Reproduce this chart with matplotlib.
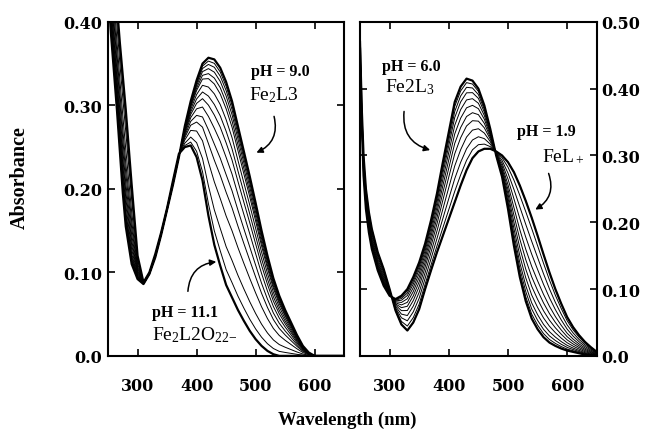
import numpy as np
import matplotlib
matplotlib.use('Agg')
import matplotlib.pyplot as plt

plt.rcParams['mathtext.fontset'] = 'custom'
plt.rcParams['mathtext.rm'] = 'Liberation Serif'
plt.rcParams['mathtext.it'] = 'Liberation Serif'
plt.rcParams['mathtext.bf'] = 'Liberation Serif:bold'

# ---- left panel : pH 9.0 (Fe2L3) -> pH 11.1 (Fe2L2O2 2-) ----
wl_left = [250, 255, 260, 265, 270, 275, 280, 290, 300, 310, 320, 330, 340, 350,
           360, 370, 380, 390, 400, 410, 420, 430, 440, 450, 460, 470, 480, 490,
           500, 510, 520, 530, 540, 550, 560, 570, 580, 590, 600, 620, 650]
abs_ph90 = [0.44, 0.385, 0.34, 0.295, 0.245, 0.195, 0.155, 0.110, 0.092, 0.086,
            0.098, 0.118, 0.145, 0.175, 0.205, 0.238, 0.275, 0.305, 0.330, 0.350,
            0.357, 0.355, 0.345, 0.328, 0.305, 0.275, 0.245, 0.215, 0.183, 0.150,
            0.120, 0.093, 0.072, 0.055, 0.040, 0.025, 0.012, 0.004, 0.0, 0.0, 0.0]
abs_ph111 = [0.60, 0.53, 0.47, 0.42, 0.375, 0.335, 0.295, 0.205, 0.120, 0.088,
             0.100, 0.122, 0.148, 0.177, 0.210, 0.242, 0.250, 0.252, 0.238, 0.210,
             0.168, 0.133, 0.108, 0.085, 0.070, 0.055, 0.042, 0.030, 0.020, 0.012,
             0.006, 0.002, 0.0, 0.0, 0.0, 0.0, 0.0, 0.0, 0.0, 0.0, 0.0]
# band maxima of the in-between spectra, read top to bottom
peaks_left = [0.353, 0.349, 0.344, 0.338, 0.332, 0.324, 0.316, 0.308, 0.298,
              0.288, 0.280, 0.270, 0.262, 0.256]

# ---- right panel : pH 6.0 (Fe2L3) -> pH 1.9 (FeL+) ----
wl_right = [250, 253, 256, 260, 265, 270, 280, 290, 300, 310, 320, 330, 340, 350,
            360, 370, 380, 390, 400, 410, 420, 430, 440, 450, 460, 470, 480, 490,
            500, 510, 520, 530, 540, 550, 560, 570, 580, 590, 600, 610, 620, 630,
            640, 650]
abs_ph60 = [0.46, 0.35, 0.27, 0.22, 0.185, 0.160, 0.128, 0.105, 0.090, 0.085,
            0.090, 0.100, 0.118, 0.140, 0.168, 0.203, 0.243, 0.290, 0.335, 0.380,
            0.403, 0.415, 0.412, 0.400, 0.375, 0.340, 0.300, 0.268, 0.220, 0.165,
            0.118, 0.082, 0.056, 0.040, 0.028, 0.020, 0.015, 0.011, 0.008, 0.006,
            0.004, 0.002, 0.001, 0.0]
abs_ph19 = [0.47, 0.37, 0.30, 0.25, 0.215, 0.190, 0.155, 0.130, 0.100, 0.068,
            0.047, 0.038, 0.050, 0.070, 0.100, 0.128, 0.155, 0.180, 0.205, 0.230,
            0.255, 0.278, 0.296, 0.306, 0.310, 0.310, 0.306, 0.300, 0.290, 0.275,
            0.255, 0.232, 0.207, 0.180, 0.152, 0.125, 0.100, 0.078, 0.058, 0.043,
            0.031, 0.021, 0.013, 0.006]
peaks_right = [0.409, 0.402, 0.394, 0.385, 0.375, 0.364, 0.352, 0.340, 0.328,
               0.317, 0.310]


def fractions(wl, low, high, peaks):
    # which share of the "high" spectrum gives each read band maximum
    wl, low, high = np.array(wl), np.array(low), np.array(high)
    band = wl > 350
    fs = np.linspace(0, 1, 401)
    tops = [(low + f * (high - low))[band].max() for f in fs]
    return np.interp(peaks, tops, fs)


def draw(ax, wl, low, high, peaks):
    low, high = np.array(low), np.array(high)
    for f in fractions(wl, low, high, peaks):
        ax.plot(wl, low + f * (high - low), color='k', lw=0.7)
    ax.plot(wl, low, color='k', lw=1.6)
    ax.plot(wl, high, color='k', lw=1.6)


def style(ax, ymax, yticks, ylabels):
    ax.set_xlim(250, 650)
    ax.set_ylim(0, ymax)
    ax.set_xticks([300, 400, 500, 600])
    ax.set_xticklabels(['300', '400', '500', '600'])
    ax.set_yticks(yticks)
    ax.set_yticklabels(ylabels)
    ax.tick_params(direction='in', top=True, right=True, left=True,
                   length=5, width=1.2, labelsize=11.5)
    ax.tick_params(axis='x', pad=15)
    for s in ax.spines.values():
        s.set_linewidth(1.5)


def bold_ticks(ax):
    for t in ax.xaxis.get_major_ticks() + ax.yaxis.get_major_ticks():
        for lbl in (t.label1, t.label2):
            lbl.set_fontfamily('DejaVu Serif')
            lbl.set_fontweight('bold')


fig = plt.figure(figsize=(6.47, 4.39), dpi=100)
ax1 = fig.add_axes([0.167, 0.187, 0.365, 0.761])
ax2 = fig.add_axes([0.5564, 0.187, 0.366, 0.761])

draw(ax1, wl_left, abs_ph111, abs_ph90, peaks_left)
draw(ax2, wl_right, abs_ph19, abs_ph60, peaks_right)

style(ax1, 0.40, [0, 0.1, 0.2, 0.3, 0.4], ['0.0', '0.10', '0.20', '0.30', '0.40'])
ax1.tick_params(axis='y', pad=4)
style(ax2, 0.50, [0, 0.1, 0.2, 0.3, 0.4, 0.5],
      ['0.0', '0.10', '0.20', '0.30', '0.40', '0.50'])
ax2.tick_params(axis='y', labelleft=False, labelright=True, pad=3)
bold_ticks(ax1)
bold_ticks(ax2)

ser = 'Liberation Serif'
arrow = dict(arrowstyle='-|>', color='k', lw=1.1, mutation_scale=9)

# left panel notes
ax1.text(542, 0.341, 'pH = 9.0', ha='center', va='center', fontsize=11.5,
         fontweight='bold', family=ser)
ax1.text(488, 0.314, r'Fe$_2$L3', ha='left', va='center', fontsize=14, family=ser)
ax1.annotate('', xy=(497, 0.242), xytext=(530, 0.290),
             arrowprops=dict(arrow, connectionstyle='arc3,rad=-0.45'))
ax1.text(325, 0.053, 'pH = 11.1', ha='left', va='center', fontsize=11.5,
         fontweight='bold', family=ser)
ax1.text(325, 0.026, r'Fe$_2$L2O$_{22\mathrm{-}}$', ha='left', va='center',
         fontsize=14, family=ser)
ax1.annotate('', xy=(438, 0.113), xytext=(385, 0.074),
             arrowprops=dict(arrow, connectionstyle='arc3,rad=-0.45'))

# right panel notes
ax2.text(337, 0.434, 'pH = 6.0', ha='center', va='center', fontsize=11.5,
         fontweight='bold', family=ser)
ax2.text(292, 0.403, r'Fe2L$_3$', ha='left', va='center', fontsize=14, family=ser)
ax2.annotate('', xy=(373, 0.307), xytext=(325, 0.370),
             arrowprops=dict(arrow, connectionstyle='arc3,rad=0.45'))
ax2.text(565, 0.337, 'pH = 1.9', ha='center', va='center', fontsize=11.5,
         fontweight='bold', family=ser)
ax2.text(558, 0.300, r'FeL$_+$', ha='left', va='center', fontsize=14, family=ser)
ax2.annotate('', xy=(542, 0.217), xytext=(567, 0.277),
             arrowprops=dict(arrow, connectionstyle='arc3,rad=-0.45'))

fig.text(20 / 647, 1 - 178 / 439, 'Absorbance', rotation=90, ha='center',
         va='center', fontsize=14.5, fontweight='bold', family=ser)
fig.text(347 / 647, 1 - 420 / 439, 'Wavelength (nm)', ha='center', va='center',
         fontsize=13.5, fontweight='bold', family=ser)

fig.savefig('out.png', dpi=100)
